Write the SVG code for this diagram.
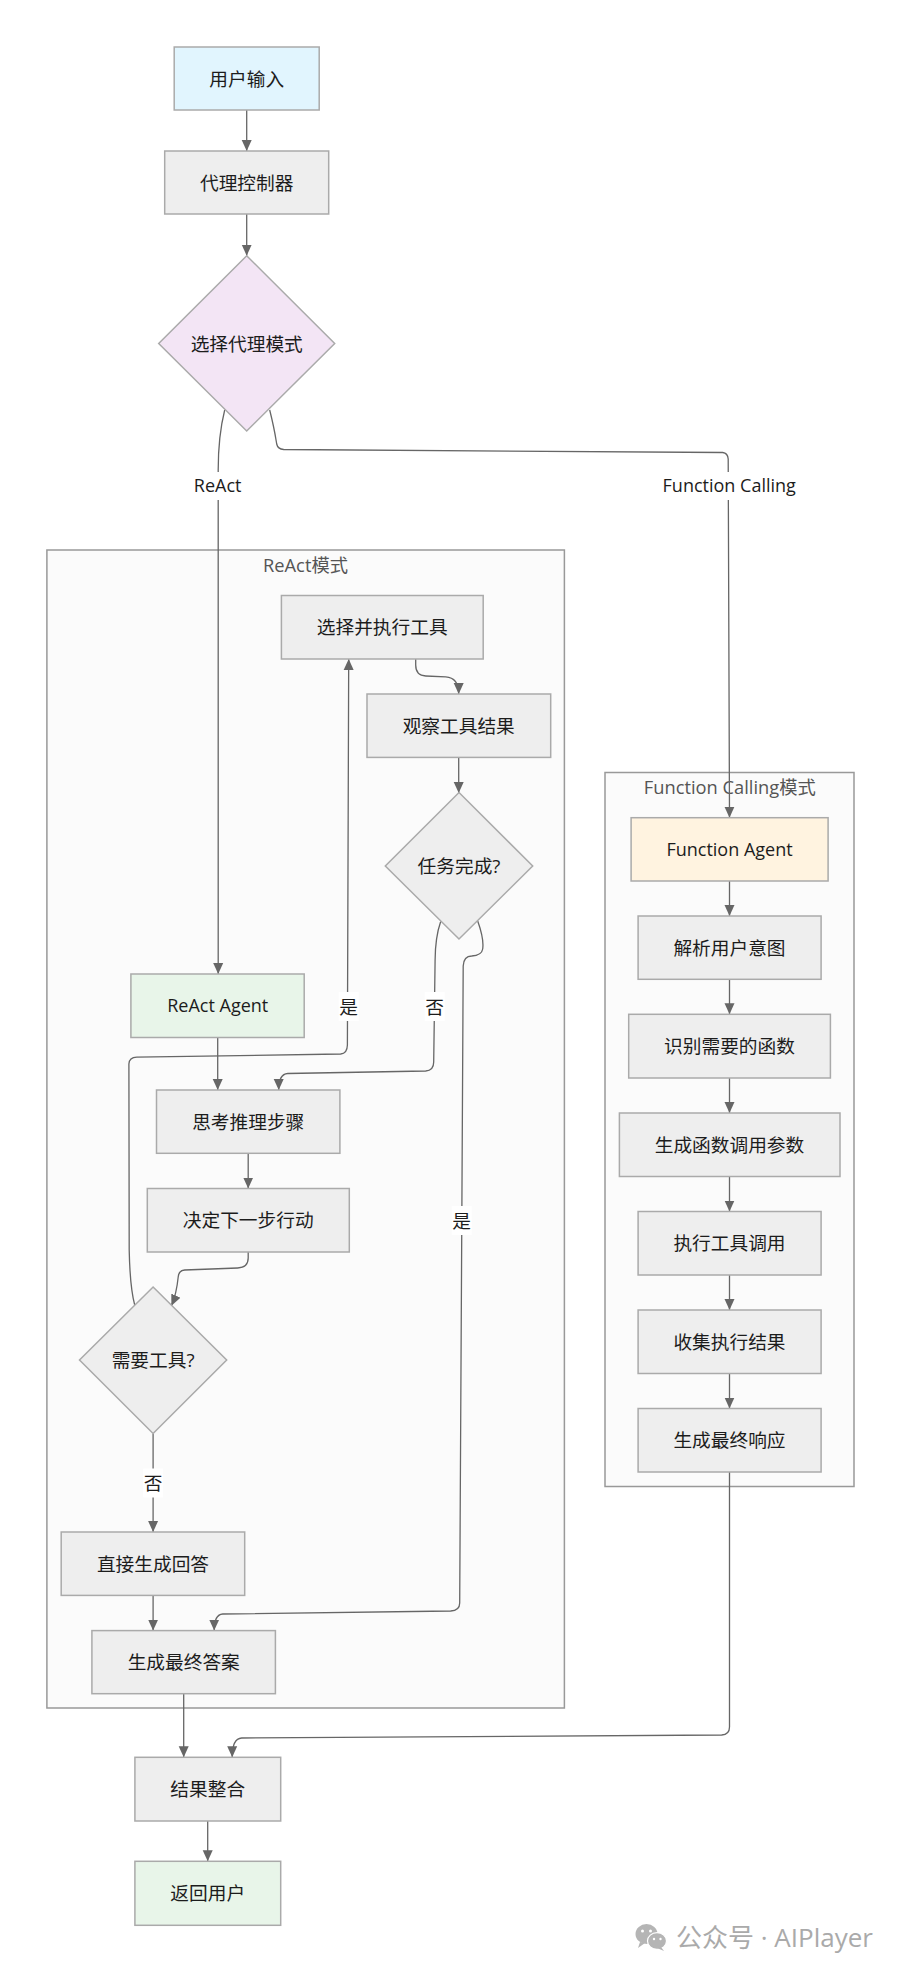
<svg xmlns="http://www.w3.org/2000/svg" width="900" height="1972" viewBox="0 0 900 1972">
<style>
text{font-family:"Open Sans","Noto Sans CJK SC",sans-serif;text-anchor:middle;dominant-baseline:central;font-size:18.7px;fill:#1c1c1c}
.n{stroke:#aaa;stroke-width:1.5}
.g{fill:#eee}
.c{fill:#fbfbfb;stroke:#999;stroke-width:1.5}
.cl{fill:#555;font-size:18.3px}
.lat{font-size:18px}
.e{fill:none;stroke:#666;stroke-width:1.3;marker-end:url(#a)}
.lb{fill:#fff}
</style>
<defs>
<marker id="a" markerUnits="userSpaceOnUse" markerWidth="12" markerHeight="12" refX="11" refY="5.5" orient="auto"><path d="M0,0.5 L11,5.5 L0,10.5 Z" fill="#666"/></marker>
</defs>
<rect width="900" height="1972" fill="#fff"/>
<g id="clusters">
<g id="cluster-react"><rect class="c" x="46.9" y="550" width="517.5" height="1158"/><text class="cl" x="305.5" y="564">ReAct模式</text></g>
<g id="cluster-function"><rect class="c" x="605" y="772.5" width="249" height="714"/><text class="cl" x="729.8" y="786.5">Function Calling模式</text></g>
</g>
<g id="connectors" transform="translate(0.7,0)">
<path class="e" d="M246,110 V151"/>
<path class="e" d="M246,214 V255.7"/>
<path class="e" d="M224,410 C219,430 217.5,445 217.5,470 V974"/>
<path class="e" d="M269,410 C274,430 275,438 276,444 Q277,449 283,449.5 L722,452.5 Q727,453 727.5,459 L728.8,817.7"/>
<path class="e" d="M217,1037.5 V1090"/>
<path class="e" d="M415,659 V665 Q415,675.5 425,676 L445,676.8 Q458,677.5 458,694"/>
<path class="e" d="M458,757.4 V793"/>
<path class="e" d="M440,921.5 C436,933 434.5,945 434.4,960 L433,1062 Q433,1070.5 425,1071 L287,1073.5 Q278,1074 278,1090"/>
<path class="e" d="M477,921 C482,935 483,942 482,949 Q481,955.5 471,956 Q463,956 462.5,966 L459,1603 Q459,1610.5 450,1611 L222,1614 Q213.5,1614.5 213.5,1630.6"/>
<path class="e" d="M134,1305 C130,1290 129,1275 128.5,1250 L128.2,1064 Q128.5,1057.5 136,1057.2 L340,1054 Q346.5,1053.5 346.7,1045 L348,659"/>
<path class="e" d="M247.5,1153.3 V1188.5"/>
<path class="e" d="M247.5,1252 V1258 Q247.5,1267.5 237,1268 L184,1270 Q178,1270.5 177.5,1277 C176.5,1287 175,1296 170.7,1305.7"/>
<path class="e" d="M152.4,1433.5 V1532"/>
<path class="e" d="M152.4,1595.4 V1630.6"/>
<path class="e" d="M183,1693.7 V1757.3"/>
<path class="e" d="M728.8,881 V916"/>
<path class="e" d="M728.8,979.3 V1014.3"/>
<path class="e" d="M728.8,1078 V1113"/>
<path class="e" d="M728.8,1176.5 V1211.5"/>
<path class="e" d="M728.8,1275 V1310"/>
<path class="e" d="M728.8,1373.5 V1408.5"/>
<path class="e" d="M728.8,1472 V1727 Q728.8,1734.5 721,1735 L241,1738 Q231.5,1738.5 231.5,1757.3"/>
<path class="e" d="M207,1821 V1861.3"/>
</g>
<g id="edge-labels" transform="translate(0.7,0)">
<g id="l-react"><rect class="lb" x="190" y="472" width="54" height="28"/><text class="lat" x="217" y="485.3">ReAct</text></g>
<g id="l-function"><rect class="lb" x="660" y="472" width="137" height="28"/><text class="lat" x="728.5" y="485.3">Function Calling</text></g>
<g id="l-yes1"><rect class="lb" x="338" y="992" width="20" height="29"/><text x="348" y="1006">是</text></g>
<g id="l-no1"><rect class="lb" x="424" y="992" width="20" height="29"/><text x="434" y="1006">否</text></g>
<g id="l-yes2"><rect class="lb" x="451" y="1206" width="20" height="29"/><text x="460.8" y="1220">是</text></g>
<g id="l-no2"><rect class="lb" x="142.5" y="1468.5" width="20" height="29"/><text x="152.4" y="1482.5">否</text></g>
</g>
<g id="nodes" transform="translate(0.7,0)">
<g id="n-input"><rect class="n" x="173.5" y="47" width="145" height="63" fill="#e1f5fe"/><text x="246" y="78">用户输入</text></g>
<g id="n-controller"><rect class="n g" x="164" y="151" width="164" height="63"/><text x="246" y="182">代理控制器</text></g>
<g id="n-mode"><polygon class="n" points="246,255.7 334,343.5 246,431 158,343.5" fill="#f3e5f5"/><text x="246" y="343">选择代理模式</text></g>
<g id="n-select"><rect class="n g" x="280.7" y="595.5" width="201.8" height="63.5"/><text x="381.5" y="626.7">选择并执行工具</text></g>
<g id="n-observe"><rect class="n g" x="366.3" y="694" width="183.7" height="63.4"/><text x="458" y="725.2">观察工具结果</text></g>
<g id="n-done"><polygon class="n g" points="458.3,792.5 532,866 458.3,939 384.6,866"/><text x="458.3" y="865.5">任务完成?</text></g>
<g id="n-react"><rect class="n" x="130.2" y="974" width="173.3" height="63.5" fill="#e8f5e9"/><text class="lat" x="217" y="1005.2">ReAct Agent</text></g>
<g id="n-think"><rect class="n g" x="155.8" y="1090" width="183.4" height="63.3"/><text x="247.5" y="1121.2">思考推理步骤</text></g>
<g id="n-decide"><rect class="n g" x="146.6" y="1188.5" width="202" height="63.5"/><text x="247.5" y="1219.7">决定下一步行动</text></g>
<g id="n-need"><polygon class="n g" points="152.4,1287 226,1360 152.4,1433.5 78.8,1360"/><text x="152.4" y="1359.5">需要工具?</text></g>
<g id="n-direct"><rect class="n g" x="60.5" y="1532" width="183.5" height="63.4"/><text x="152.3" y="1563.2">直接生成回答</text></g>
<g id="n-final"><rect class="n g" x="91.2" y="1630.6" width="183.5" height="63.1"/><text x="183" y="1661.5">生成最终答案</text></g>
<g id="n-fagent"><rect class="n" x="630.4" y="817.7" width="197" height="63.3" fill="#fff3e0"/><text class="lat" x="728.8" y="848.8">Function Agent</text></g>
<g id="n-parse"><rect class="n g" x="637.4" y="916" width="183" height="63.3"/><text x="728.8" y="947.1">解析用户意图</text></g>
<g id="n-identify"><rect class="n g" x="628" y="1014.3" width="201.7" height="63.7"/><text x="728.8" y="1045.5">识别需要的函数</text></g>
<g id="n-args"><rect class="n g" x="618.7" y="1113" width="220.6" height="63.5"/><text x="728.8" y="1144.2">生成函数调用参数</text></g>
<g id="n-exec"><rect class="n g" x="637.4" y="1211.5" width="183" height="63.5"/><text x="728.8" y="1242.7">执行工具调用</text></g>
<g id="n-collect"><rect class="n g" x="637.4" y="1310" width="183" height="63.5"/><text x="728.8" y="1341.2">收集执行结果</text></g>
<g id="n-fresp"><rect class="n g" x="637.4" y="1408.5" width="183" height="63.5"/><text x="728.8" y="1439.7">生成最终响应</text></g>
<g id="n-merge"><rect class="n g" x="134.2" y="1757.3" width="145.8" height="63.7"/><text x="207" y="1788.5">结果整合</text></g>
<g id="n-return"><rect class="n" x="134.2" y="1861.3" width="145.8" height="64" fill="#e8f5e9"/><text x="207" y="1892.8">返回用户</text></g>
</g>
<g id="watermark">
<ellipse cx="646.5" cy="1934" rx="11" ry="10" fill="#b5b5b5"/>
<path d="M640,1942 L638,1948 L645,1943 Z" fill="#b5b5b5"/>
<ellipse cx="657" cy="1941" rx="9.5" ry="8.3" fill="#b5b5b5" stroke="#fff" stroke-width="1.2"/>
<path d="M661,1947 L664,1951 L657,1948 Z" fill="#b5b5b5"/>
<circle cx="642.5" cy="1931" r="1.5" fill="#fff"/><circle cx="650.5" cy="1931" r="1.5" fill="#fff"/>
<circle cx="654" cy="1939" r="1.2" fill="#fff"/><circle cx="660.5" cy="1939" r="1.2" fill="#fff"/>
<text x="774.5" y="1937" style="font-size:26px;fill:#aaa">公众号 · AIPlayer</text>
</g>
</svg>
